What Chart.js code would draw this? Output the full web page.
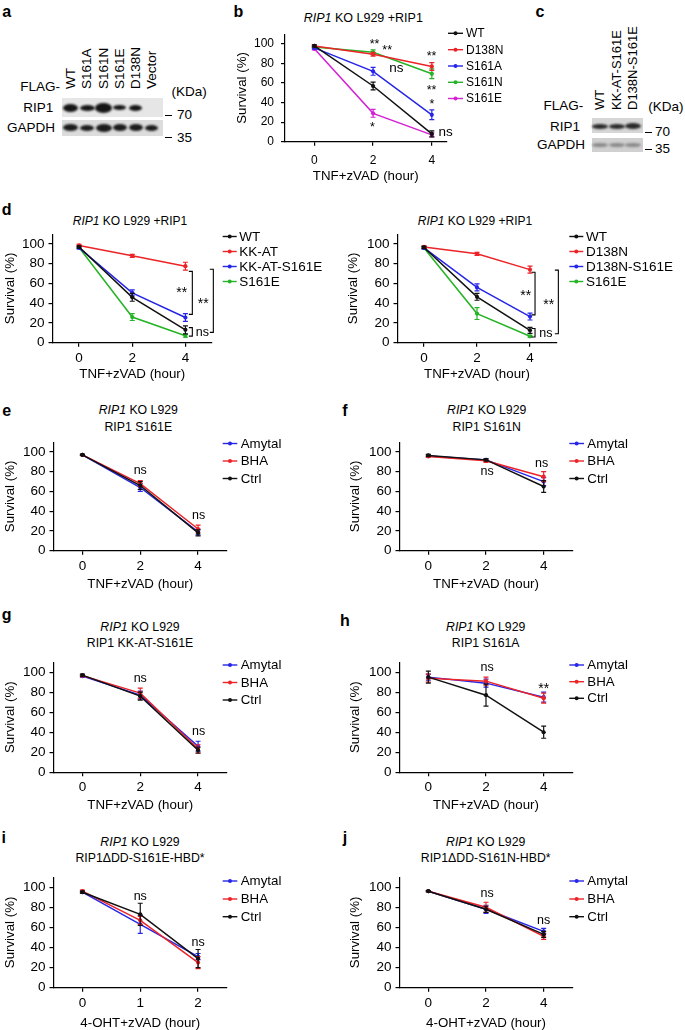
<!DOCTYPE html>
<html><head><meta charset="utf-8">
<script src="https://cdn.jsdelivr.net/npm/chart.js@4.4.0/dist/chart.umd.min.js"></script>
<style>
html,body{margin:0;padding:0;background:#fff;overflow:hidden;}
body{width:685px;height:1030px;position:relative;font-family:"Liberation Sans",Arial,Helvetica,sans-serif;color:#000;}
.abs{position:absolute;white-space:nowrap;line-height:1.15;}
canvas{position:absolute;}
.box{position:absolute;}
.band{position:absolute;border-radius:50%;filter:blur(0.9px);}
</style></head><body>
<script>
// ---------- DATA ----------
const hours = [0, 2, 4];
const hoursI = [0, 1, 2];
const yTicks = [0, 20, 40, 60, 80, 100];

// panel b
const b_names = ['WT', 'D138N', 'S161A', 'S161N', 'S161E'];
const b_WT = [98, 57, 8], b_WT_err = [1, 4, 3];
const b_D138N = [98, 89.5, 77], b_D138N_err = [1, 2, 4];
const b_S161A = [96, 72, 27.5], b_S161A_err = [1, 4, 5];
const b_S161N = [97, 91.5, 69.5], b_S161N_err = [1, 2.5, 5];
const b_S161E = [95, 29, 7], b_S161E_err = [1, 4, 2];

// panel d (left)
const d1_names = ['WT', 'KK-AT', 'KK-AT-S161E', 'S161E'];
const d1_WT = [97, 46, 13], d1_WT_err = [1, 4, 4];
const d1_KKAT = [98.5, 88, 77.5], d1_KKAT_err = [1, 1.5, 4];
const d1_KKATS161E = [96, 50.5, 25.5], d1_KKATS161E_err = [1, 3, 4];
const d1_S161E = [96.5, 26, 7], d1_S161E_err = [1, 3.5, 1.5];

// panel d (right)
const d2_names = ['WT', 'D138N', 'D138N-S161E', 'S161E'];
const d2_WT = [96.5, 46.5, 12.5], d2_WT_err = [1, 3.5, 3];
const d2_D138N = [97, 90, 74], d2_D138N_err = [1, 1.5, 3.5];
const d2_D138NS161E = [96, 56, 26.5], d2_D138NS161E_err = [1, 3.5, 3.5];
const d2_S161E = [96, 29.5, 6.5], d2_S161E_err = [1, 6, 1];

const trt_names = ['Amytal', 'BHA', 'Ctrl'];
// panel e
const e_Amytal = [97, 64, 19], e_Amytal_err = [0.5, 4, 3];
const e_BHA = [97, 68, 22], e_BHA_err = [0.5, 3, 4];
const e_Ctrl = [97, 66, 18], e_Ctrl_err = [0.5, 4, 3];
// panel f
const f_Amytal = [96, 92, 70], f_Amytal_err = [1, 1, 4];
const f_BHA = [95.5, 91, 75], f_BHA_err = [1, 1.5, 5];
const f_Ctrl = [96.5, 92, 65], f_Ctrl_err = [1, 1, 6];
// panel g
const g_Amytal = [96, 77, 26], g_Amytal_err = [1, 4, 5];
const g_BHA = [96.5, 79, 23.5], g_BHA_err = [1, 5, 4];
const g_Ctrl = [97, 76, 22], g_Ctrl_err = [1, 4, 3];
// panel h
const h_Amytal = [95, 89, 75], h_Amytal_err = [3, 4, 5];
const h_BHA = [94, 91, 74], h_BHA_err = [4, 4, 5];
const h_Ctrl = [95, 77, 40], h_Ctrl_err = [6, 11, 6];
// panel i
const i_Amytal = [95, 63, 31], i_Amytal_err = [1, 9, 3];
const i_BHA = [96, 67, 25], i_BHA_err = [1, 4, 6];
const i_Ctrl = [95, 73, 29], i_Ctrl_err = [1, 11, 9];
// panel j
const j_Amytal = [96, 78, 56], j_Amytal_err = [0.5, 4, 3];
const j_BHA = [96, 80, 51], j_BHA_err = [0.5, 5, 3];
const j_Ctrl = [96, 78, 53], j_Ctrl_err = [0.5, 3, 3];

// ---------- STYLE ----------
const FONT = '"Liberation Sans", Arial, Helvetica, sans-serif';
const C = {black:'#111111', red:'#ec2327', blue:'#2626e8', green:'#25b425', magenta:'#d322d3'};
Chart.defaults.font.family = FONT;
Chart.defaults.color = '#000';

function txt(html, x, y, o = {}) {
  const d = document.createElement('div');
  d.className = 'abs'; d.innerHTML = html;
  d.style.fontSize = (o.size || 13) + 'px';
  if (o.bold) d.style.fontWeight = 'bold';
  d.style.left = x + 'px'; d.style.top = y + 'px';
  const tx = o.align === 'left' ? '0' : o.align === 'right' ? '-100%' : '-50%';
  d.style.transform = `translate(${tx},-50%)`;
  document.body.appendChild(d);
}
function vtxt(html, x, yBottom, size) {
  const d = document.createElement('div');
  d.className = 'abs'; d.innerHTML = html;
  d.style.fontSize = size + 'px';
  d.style.left = x + 'px'; d.style.top = yBottom + 'px';
  d.style.transformOrigin = '0 0';
  d.style.transform = 'rotate(-90deg) translate(0,-50%)';
  document.body.appendChild(d);
}
function rect(x0, y0, x1, y1, bg) {
  const d = document.createElement('div');
  d.className = 'box';
  Object.assign(d.style, {left:x0+'px', top:y0+'px', width:(x1-x0)+'px', height:(y1-y0)+'px', background:bg});
  document.body.appendChild(d);
}
function band(cx, cy, w, h, col) {
  const d = document.createElement('div');
  d.className = 'band';
  Object.assign(d.style, {left:(cx-w/2)+'px', top:(cy-h/2)+'px', width:w+'px', height:h+'px', background:col});
  document.body.appendChild(d);
}
function hline(x0, x1, y) {
  const d = document.createElement('div');
  d.className = 'box';
  Object.assign(d.style, {left:x0+'px', top:(y-0.5)+'px', width:(x1-x0)+'px', height:'1px', background:'#000'});
  document.body.appendChild(d);
}

// ---------- PANEL LETTERS ----------
[['a',6.7,11.5],['b',238.3,11.5],['c',540,11.5],['d',6.7,209.5],['e',6.7,411],['f',345,411],
 ['g',6.7,615],['h',345,621],['i',3.8,837.7],['j',345,837.7]].forEach(l => txt(l[0], l[1], l[2], {size:16, bold:true}));

// ---------- BLOTS ----------
// panel a
txt('FLAG-', 60, 86.7, {align:'right', size:13.5});
txt('RIP1', 53.3, 108.3, {align:'right', size:13.5});
txt('GAPDH', 55, 128.3, {align:'right', size:13.5});
const aCols = ['WT', 'S161A', 'S161N', 'S161E', 'D138N', 'Vector'];
const aColX = [70.7, 87.3, 103.5, 119.5, 135.5, 151.7];
aCols.forEach((t, i) => vtxt(t, aColX[i], 88.5, 13.5));
rect(61.7, 98.3, 163.3, 116.7, '#e6e6e6');
rect(61.7, 119.5, 163.3, 135.5, '#dcdcdc');
[[15,8],[15,6],[17,10],[13,5],[13,6]].forEach((s, i) => band(aColX[i], 107.5, s[0], s[1], '#151515'));
[[15,7],[14,6],[16,8],[14,7],[14,7],[13,6]].forEach((s, i) => band(aColX[i], 127.5, s[0], s[1], '#1c1c1c'));
hline(165, 172, 115); hline(165, 172, 137);
txt('(KDa)', 171.5, 91.7, {align:'left', size:13.5});
txt('70', 177, 115, {align:'left', size:13.5});
txt('35', 177, 138, {align:'left', size:13.5});
// panel c
txt('FLAG-', 583.3, 106, {align:'right', size:13.5});
txt('RIP1', 580, 126.7, {align:'right', size:13.5});
txt('GAPDH', 585, 145, {align:'right', size:13.5});
const cCols = ['WT', 'KK-AT-S161E', 'D138N-S161E'];
const cColX = [600, 616.7, 633.3];
cCols.forEach((t, i) => vtxt(t, cColX[i], 110, 13));
rect(591.7, 118.3, 643.3, 133.3, '#d6d6d6');
rect(591.7, 138.3, 643.3, 151.7, '#d0d0d0');
cColX.forEach((x, i) => band(x, 126.3, 16, i === 2 ? 6 : 5, '#2a2a2a'));
cColX.forEach(x => band(x, 145, 16, 4, '#8a8a8a'));
hline(645, 652, 132.3); hline(645, 652, 149);
txt('(KDa)', 648.3, 107.3, {align:'left', size:13.5});
txt('70', 655, 132.3, {align:'left', size:13.5});
txt('35', 655, 149, {align:'left', size:13.5});

// ---------- TITLES ----------
txt('<i>RIP1</i> KO L929 +RIP1', 363.3, 18.3, {size:12.5});
txt('<i>RIP1</i> KO L929 +RIP1', 130, 221.7, {size:12});
txt('<i>RIP1</i> KO L929 +RIP1', 475, 221.7, {size:12});
[[138.3,410,'RIP1 S161E'],[486.7,410,'RIP1 S161N'],[140,626.7,'RIP1 KK-AT-S161E'],[485.7,626.7,'RIP1 S161A'],
 [140,841.7,'RIP1ΔDD-S161E-HBD*'],[485.7,841.7,'RIP1ΔDD-S161N-HBD*']].forEach(t => {
  txt('<i>RIP1</i> KO L929', t[0], t[1], {size:12.3});
  txt(t[2], t[0], t[1] + 16.6, {size:12.3});
});

// ---------- CHARTS ----------
function mkPanel(p) {
  const c = document.createElement('canvas');
  c.width = p.box.w; c.height = p.box.h;
  Object.assign(c.style, {left:p.box.x+'px', top:p.box.y+'px', width:p.box.w+'px', height:p.box.h+'px'});
  document.body.appendChild(c);
  const yW = p.area.l - p.box.x, xH = p.box.y + p.box.h - p.area.b;
  const grid = {drawOnChartArea:false, drawTicks:true, tickLength:4, color:'#000', lineWidth:1.2};
  const border = {display:true, color:'#000', width:1.2};
  const n = p.series.length;
  const local = {
    id: 'local',
    afterDatasetDraw(chart, args) {
      const ds = chart.data.datasets[args.index];
      const ys = chart.scales.y, ctx = chart.ctx;
      ctx.save(); ctx.strokeStyle = ds.borderColor; ctx.lineWidth = 1.2;
      args.meta.data.forEach((pt, i) => {
        const e = ds.err[i]; if (!e) return;
        const v = ds.data[i].y;
        const y1 = ys.getPixelForValue(v + e), y2 = ys.getPixelForValue(v - e);
        ctx.beginPath();
        ctx.moveTo(pt.x, y1); ctx.lineTo(pt.x, y2);
        ctx.moveTo(pt.x - 2.5, y1); ctx.lineTo(pt.x + 2.5, y1);
        ctx.moveTo(pt.x - 2.5, y2); ctx.lineTo(pt.x + 2.5, y2);
        ctx.stroke();
      });
      ctx.restore();
    },
    afterDraw(chart) {
      const ctx = chart.ctx, xs = chart.scales.x, ys = chart.scales.y;
      ctx.save();
      const L = p.legend;
      p.series.forEach((s, i) => {
        const y = L.ys[i] - p.box.y, x0 = L.x0 - p.box.x, x1 = L.x1 - p.box.x;
        ctx.strokeStyle = s.color; ctx.lineWidth = 1.4;
        ctx.beginPath(); ctx.moveTo(x0, y); ctx.lineTo(x1, y); ctx.stroke();
        ctx.fillStyle = s.color; ctx.beginPath(); ctx.arc((x0 + x1) / 2, y, 2, 0, Math.PI * 2); ctx.fill();
        ctx.fillStyle = '#000'; ctx.font = `${L.size}px ${FONT}`; ctx.textAlign = 'left'; ctx.textBaseline = 'middle';
        ctx.fillText(s.name, L.tx - p.box.x, y + 0.5);
      });
      (p.marks || []).forEach(m => {
        const star = m.text.includes('*');
        const size = star ? p.starSize : p.nsSize;
        ctx.font = `${size}px ${FONT}`; ctx.fillStyle = '#000'; ctx.textAlign = 'center'; ctx.textBaseline = 'alphabetic';
        ctx.fillText(m.text, xs.getPixelForValue(m.x), ys.getPixelForValue(m.y) + (star ? 0.57 : 0.26) * size);
      });
      ctx.strokeStyle = '#000'; ctx.lineWidth = 1.1;
      (p.brackets || []).forEach(b => {
        const x = xs.getPixelForValue(b.x), y1 = ys.getPixelForValue(b.y1), y2 = ys.getPixelForValue(b.y2);
        ctx.beginPath(); ctx.moveTo(x - 3.5, y1); ctx.lineTo(x, y1); ctx.lineTo(x, y2); ctx.lineTo(x - 3.5, y2); ctx.stroke();
      });
      ctx.restore();
    }
  };
  new Chart(c, {
    type: 'line',
    data: {datasets: p.series.map((s, i) => ({
      label: s.name,
      data: p.hours.map((h, k) => ({x: h, y: s.values[k]})),
      err: s.err,
      order: p.topFirst ? i : n - 1 - i,
      borderColor: s.color, backgroundColor: s.color, pointBackgroundColor: s.color,
      borderWidth: 1.5, pointRadius: 2.1, pointBorderWidth: 0, pointHoverRadius: 0, tension: 0, fill: false
    }))},
    options: {
      responsive: false, animation: false, events: [],
      layout: {padding: {left: 0, top: p.area.t - p.box.y, right: p.box.x + p.box.w - p.area.r, bottom: 0}},
      plugins: {legend: {display: false}, tooltip: {enabled: false}, title: {display: false}},
      scales: {
        x: {type: 'linear', min: p.xmin, max: p.xmax,
            afterBuildTicks: s => { s.ticks = p.hours.map(v => ({value: v})); },
            afterFit: s => { s.height = xH; },
            grid, border,
            ticks: {color: '#000', font: {size: p.tickSize}, padding: p.xTickPad, maxRotation: 0, autoSkip: false},
            title: {display: true, text: p.xtitle, color: '#000', font: {size: 13.3}, padding: {top: 0, bottom: p.xTitlePad}}},
        y: {type: 'linear', min: 0, max: 110,
            afterBuildTicks: s => { s.ticks = yTicks.map(v => ({value: v})); },
            afterFit: s => { s.width = yW; },
            grid, border,
            ticks: {color: '#000', font: {size: p.tickSize}, padding: p.yTickPad},
            title: {display: true, text: 'Survival (%)', color: '#000', font: {size: 13.3}, padding: {top: p.yTitlePad, bottom: 0}}}
      }
    },
    plugins: [local]
  });
}

const TNF = 'TNF+zVAD (hour)', OHT = '4-OHT+zVAD (hour)';
function trt(a, ae, b, be, c, ce) {
  return [{name: trt_names[0], values: a, err: ae, color: C.blue},
          {name: trt_names[1], values: b, err: be, color: C.red},
          {name: trt_names[2], values: c, err: ce, color: C.black}];
}
const legL = ys => ({x0: 222.7, x1: 237.3, tx: 240.7, ys, size: 13.3});
const legR = ys => ({x0: 569.3, x1: 584, tx: 587.3, ys, size: 13.3});

// b
mkPanel({box:{x:226,y:20,w:294,h:170}, area:{l:285,t:26.2,r:446.5,b:141.7}, xmin:-1, xmax:4.5, hours,
  tickSize:12, xTickPad:8, yTickPad:7, xTitlePad:5.2, yTitlePad:7.9, xtitle:TNF, topFirst:true,
  starSize:12.5, nsSize:13.5,
  series:[{name:b_names[0], values:b_WT, err:b_WT_err, color:C.black},
          {name:b_names[1], values:b_D138N, err:b_D138N_err, color:C.red},
          {name:b_names[2], values:b_S161A, err:b_S161A_err, color:C.blue},
          {name:b_names[3], values:b_S161N, err:b_S161N_err, color:C.green},
          {name:b_names[4], values:b_S161E, err:b_S161E_err, color:C.magenta}],
  legend:{x0:448, x1:463, tx:466, ys:[33.3,49.7,66,82.3,98.5], size:12},
  marks:[{text:'**',x:2.05,y:103.2},{text:'**',x:2.48,y:96.9},{text:'ns',x:2.79,y:75},{text:'*',x:1.98,y:18.5},
         {text:'**',x:3.99,y:91.3},{text:'**',x:3.99,y:56.4},{text:'*',x:4,y:41.9},{text:'ns',x:4.47,y:9.5}]});

// d left
mkPanel({box:{x:0,y:222,w:340,h:163}, area:{l:52.5,t:227.3,r:212,b:342.7}, xmin:-1, xmax:5, hours,
  tickSize:13.5, xTickPad:3, yTickPad:4, xTitlePad:2.2, yTitlePad:2.2, xtitle:TNF, topFirst:true,
  starSize:14, nsSize:12.5,
  series:[{name:d1_names[0], values:d1_WT, err:d1_WT_err, color:C.black},
          {name:d1_names[1], values:d1_KKAT, err:d1_KKAT_err, color:C.red},
          {name:d1_names[2], values:d1_KKATS161E, err:d1_KKATS161E_err, color:C.blue},
          {name:d1_names[3], values:d1_S161E, err:d1_S161E_err, color:C.green}],
  legend:{x0:222.7, x1:236.7, tx:239.3, ys:[236.5,251.5,266.5,281.5], size:13.5},
  marks:[{text:'**',x:3.86,y:54.3},{text:'**',x:4.67,y:43.6},{text:'ns',x:4.64,y:10}],
  brackets:[{x:4.26,y1:72.2,y2:28.7},{x:5.05,y1:74.4,y2:10.5},{x:4.26,y1:15.3,y2:6.7}]});

// d right
mkPanel({box:{x:340,y:222,w:345,h:163}, area:{l:397.5,t:227.3,r:556.5,b:342.7}, xmin:-1, xmax:5, hours,
  tickSize:13.5, xTickPad:3, yTickPad:4, xTitlePad:2.2, yTitlePad:5.5, xtitle:TNF, topFirst:true,
  starSize:14, nsSize:12.5,
  series:[{name:d2_names[0], values:d2_WT, err:d2_WT_err, color:C.black},
          {name:d2_names[1], values:d2_D138N, err:d2_D138N_err, color:C.red},
          {name:d2_names[2], values:d2_D138NS161E, err:d2_D138NS161E_err, color:C.blue},
          {name:d2_names[3], values:d2_S161E, err:d2_S161E_err, color:C.green}],
  legend:{x0:569.3, x1:583.3, tx:586, ys:[236.5,251.5,266.5,281.5], size:13.5},
  marks:[{text:'**',x:3.84,y:51.7},{text:'**',x:4.71,y:42},{text:'ns',x:4.6,y:9}],
  brackets:[{x:4.19,y1:71.3,y2:28.2},{x:5.07,y1:73.5,y2:9},{x:4.19,y1:14.4,y2:5.7}]});

const common = {tickSize:13.5, xTickPad:3, yTickPad:4, starSize:14, nsSize:12.5, topFirst:false};
// e
mkPanel({...common, box:{x:0,y:430,w:340,h:165}, area:{l:53.5,t:435.2,r:227,b:550.7}, xmin:-1, xmax:5, hours,
  xTitlePad:2.9, yTitlePad:2.2, xtitle:TNF,
  series:trt(e_Amytal, e_Amytal_err, e_BHA, e_BHA_err, e_Ctrl, e_Ctrl_err),
  legend:legL([443.5,461,478.5]),
  marks:[{text:'ns',x:2,y:80.5},{text:'ns',x:4.02,y:35.7}]});
// f
mkPanel({...common, box:{x:340,y:430,w:345,h:165}, area:{l:399.5,t:435.2,r:572.5,b:550.7}, xmin:-1, xmax:5, hours,
  xTitlePad:2.9, yTitlePad:7.2, xtitle:TNF,
  series:trt(f_Amytal, f_Amytal_err, f_BHA, f_BHA_err, f_Ctrl, f_Ctrl_err),
  legend:legR([443.5,461,478.5]),
  marks:[{text:'ns',x:2.04,y:79.7},{text:'ns',x:3.93,y:88.3}]});
// g
mkPanel({...common, box:{x:0,y:650,w:340,h:166}, area:{l:53.5,t:656.8,r:227,b:772.3}, xmin:-1, xmax:5, hours,
  xTitlePad:2.2, yTitlePad:2.2, xtitle:TNF,
  series:trt(g_Amytal, g_Amytal_err, g_BHA, g_BHA_err, g_Ctrl, g_Ctrl_err),
  legend:legL([665,682.5,700]),
  marks:[{text:'ns',x:2,y:93},{text:'ns',x:4.02,y:40.6}]});
// h
mkPanel({...common, box:{x:340,y:650,w:345,h:166}, area:{l:399.5,t:656.8,r:572.5,b:772.3}, xmin:-1, xmax:5, hours,
  xTitlePad:2.2, yTitlePad:7.2, xtitle:TNF,
  series:trt(h_Amytal, h_Amytal_err, h_BHA, h_BHA_err, h_Ctrl, h_Ctrl_err),
  legend:legR([665,681.7,698.3]),
  marks:[{text:'ns',x:2.04,y:104.1},{text:'**',x:4,y:87.4}]});
// i
mkPanel({...common, box:{x:0,y:865,w:340,h:169}, area:{l:53.5,t:872.7,r:227,b:987.7}, xmin:-0.5, xmax:2.5, hours:hoursI,
  xTitlePad:2.9, yTitlePad:2.2, xtitle:OHT,
  series:trt(i_Amytal, i_Amytal_err, i_BHA, i_BHA_err, i_Ctrl, i_Ctrl_err),
  legend:legL([881,899,916.7]),
  marks:[{text:'ns',x:1,y:90.4},{text:'ns',x:2,y:44.7}]});
// j
mkPanel({...common, box:{x:340,y:865,w:345,h:169}, area:{l:399.5,t:872.7,r:572.5,b:987.7}, xmin:-1, xmax:5, hours,
  xTitlePad:2.9, yTitlePad:7.2, xtitle:OHT,
  series:trt(j_Amytal, j_Amytal_err, j_BHA, j_BHA_err, j_Ctrl, j_Ctrl_err),
  legend:legR([881,899,916.7]),
  marks:[{text:'ns',x:2.04,y:93.6},{text:'ns',x:4,y:66.5}]});
</script>
</body></html>
